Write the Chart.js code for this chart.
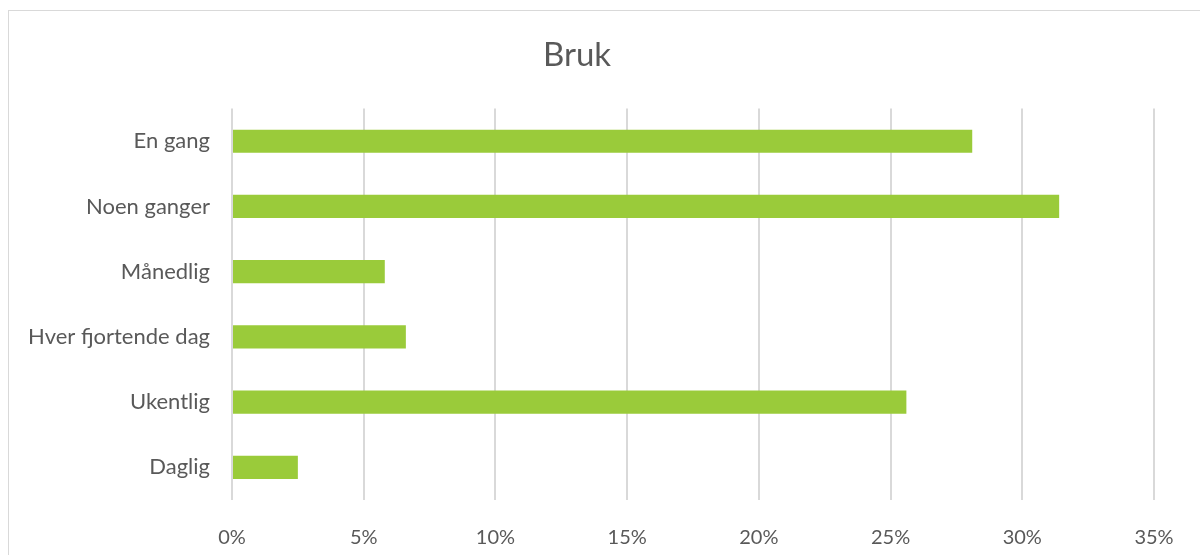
<!DOCTYPE html>
<html>
<head>
<meta charset="utf-8">
<script src="https://cdn.jsdelivr.net/npm/chart.js@4"></script>
<style>
  html, body { margin: 0; padding: 0; background: #fff; overflow: hidden; }
  #ramme { position: absolute; left: 8px; top: 10px; width: 1300px; height: 700px; border: 1px solid #d9d9d9; }
  #wrap { position: absolute; left: 0; top: 0; width: 1200px; height: 555px; }
</style>
</head>
<body>
<div id="ramme"></div>
<div id="wrap"><canvas id="grafico" width="1200" height="555"></canvas></div>
<script>
// datos
const kategorier = ['En gang', 'Noen ganger', 'Månedlig', 'Hver fjortende dag', 'Ukentlig', 'Daglig'];
const andel = [28.1, 31.4, 5.8, 6.6, 25.6, 2.5];
const tittel = 'Bruk';

const fonte = "Lato, 'Open Sans', sans-serif";
const tekstFarge = '#595959';

new Chart(document.getElementById('grafico'), {
  type: 'bar',
  data: {
    labels: kategorier,
    datasets: [
      {
        label: tittel,
        data: andel,
        backgroundColor: '#9acb3a',
        borderWidth: 0,
        barPercentage: 0.355,
        categoryPercentage: 1,
      },
    ],
  },
  options: {
    indexAxis: 'y',
    responsive: false,
    animation: false,
    layout: { padding: { left: 0, right: 46, top: 0, bottom: 0 } },
    plugins: {
      legend: { display: false },
      tooltip: { enabled: false },
      title: {
        display: true,
        text: tittel,
        color: tekstFarge,
        font: { family: fonte, size: 33, weight: 'normal' },
        padding: { top: 36, bottom: 33 },
      },
    },
    scales: {
      x: {
        min: 0,
        max: 35,
        ticks: {
          stepSize: 5,
          color: tekstFarge,
          font: { family: fonte, size: 20 },
          padding: 26,
          callback: (v) => v + '%',
        },
        grid: { color: '#d9d9d9', lineWidth: 2, drawTicks: false },
        border: { display: false },
        afterFit: (s) => { s.height = 55; },
      },
      y: {
        ticks: {
          color: tekstFarge,
          font: { family: fonte, size: 22 },
          padding: 14,
        },
        grid: { display: false },
        border: { display: false },
        afterFit: (s) => { s.width = 232; },
      },
    },
  },
});
</script>
</body>
</html>
